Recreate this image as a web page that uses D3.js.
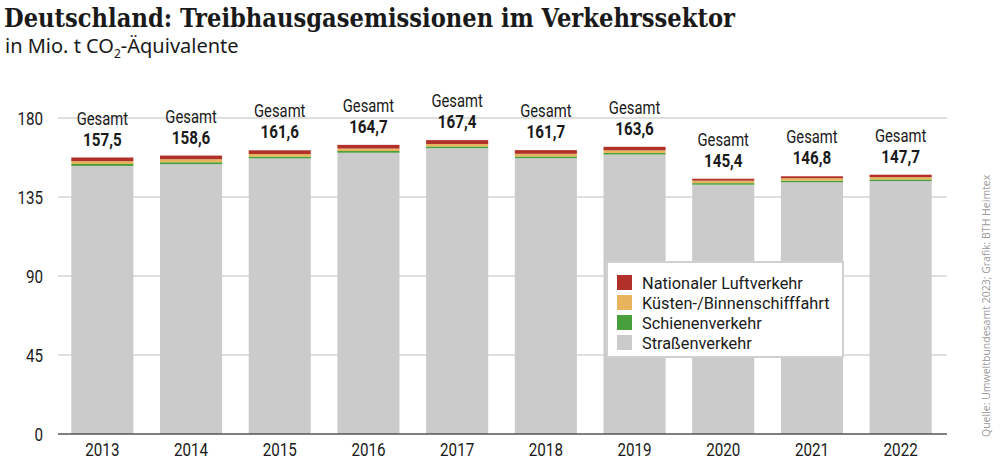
<!DOCTYPE html>
<html><head><meta charset="utf-8">
<script src="https://cdn.jsdelivr.net/npm/d3@7"></script>
<style>
body{margin:0;background:#fff;}
svg{display:block;}
.cond text{font-family:Roboto,"Liberation Sans",sans-serif;fill:#1a1a1a;}
</style></head>
<body><svg id="c" width="1000" height="472"></svg>
<script>
const years = ["2013","2014","2015","2016","2017","2018","2019","2020","2021","2022"];
const totals = [157.5,158.6,161.6,164.7,167.4,161.7,163.6,145.4,146.8,147.7];
const luftverkehr = [2.1,2.1,2.1,2.1,2.2,2.1,2.0,1.1,1.1,1.4];
const schifffahrt = [1.6,1.7,1.5,1.4,1.4,1.5,1.5,1.4,1.4,1.3];
const schiene = [1.1,1.1,1.0,1.0,1.0,1.0,0.9,0.9,0.9,0.9];
const strasse = totals.map((t,i)=>+(t-luftverkehr[i]-schifffahrt[i]-schiene[i]).toFixed(1));
const yTicks = [0,45,90,135,180];
const seriesNames = ["Straßenverkehr","Schienenverkehr","Küsten-/Binnenschifffahrt","Nationaler Luftverkehr"];
const seriesColors = ["#cbcbcb","#48a03c","#e8b45b","#b1302a"];
const SX = 0.8; // condensed look

const svg = d3.select("#c");
const x = d3.scaleBand().domain(years).range([58,945]).paddingInner(0.3).paddingOuter(0.15);
const y = d3.scaleLinear().domain([0,180]).range([434,118]);

const rows = years.map((yr,i)=>({year:yr, "Straßenverkehr":strasse[i], "Schienenverkehr":schiene[i], "Küsten-/Binnenschifffahrt":schifffahrt[i], "Nationaler Luftverkehr":luftverkehr[i], total:totals[i]}));
const stack = d3.stack().keys(seriesNames)(rows);

// title
svg.append("text").attr("x",4).attr("y",27).attr("font-family","DejaVu Serif Condensed, DejaVu Serif, serif").attr("font-weight","bold").attr("font-size",26).attr("fill","#1a1a1a")
  .attr("textLength",731).attr("lengthAdjust","spacingAndGlyphs").text("Deutschland: Treibhausgasemissionen im Verkehrssektor");
const sub = svg.append("text").attr("x",5).attr("y",53).attr("font-family","Noto Sans, sans-serif").attr("font-size",20).attr("fill","#1a1a1a");
sub.append("tspan").text("in Mio. t CO");
sub.append("tspan").attr("font-size",12).attr("dy",5).text("2");
sub.append("tspan").attr("dy",-5).text("-Äquivalente");

// grid
svg.append("g").selectAll("line").data(yTicks.filter(d=>d>0)).join("line")
  .attr("x1",58).attr("x2",947).attr("y1",d=>y(d)).attr("y2",d=>y(d))
  .attr("stroke","#d4d4d4").attr("stroke-width",1.5);

// y labels
svg.append("g").attr("class","cond").selectAll("text").data(yTicks).join("text")
  .attr("transform",d=>`translate(43,${y(d)+7}) scale(${SX},1)`).attr("text-anchor","end").attr("font-size",19).text(d=>d);

// bars
svg.append("g").selectAll("g").data(stack).join("g").attr("fill",(d,i)=>seriesColors[i])
  .selectAll("rect").data(d=>d).join("rect")
  .attr("x",d=>x(d.data.year)).attr("width",x.bandwidth())
  .attr("y",d=>y(d[1])).attr("height",d=>y(d[0])-y(d[1]));

// baseline
svg.append("line").attr("x1",58).attr("x2",947).attr("y1",y(0)).attr("y2",y(0)).attr("stroke","#555").attr("stroke-width",1.5);

// x labels
svg.append("g").attr("class","cond").selectAll("text").data(years).join("text")
  .attr("transform",d=>`translate(${x(d)+x.bandwidth()/2},456) scale(${SX},1)`).attr("text-anchor","middle").attr("font-size",19).text(d=>d);

// total labels
const lab = svg.append("g").attr("class","cond").selectAll("g").data(rows).join("g")
  .attr("transform",d=>`translate(${x(d.year)+x.bandwidth()/2},${y(d.total)-12}) scale(${SX},1)`);
lab.append("text").attr("text-anchor","middle").attr("font-size",19).attr("font-weight","bold").text(d=>d3.format(".1f")(d.total).replace(".",","));
lab.append("text").attr("text-anchor","middle").attr("y",-21).attr("font-size",18.5).text("Gesamt");

// legend
const lg = svg.append("g").attr("class","cond");
lg.append("rect").attr("x",607).attr("y",262).attr("width",236).attr("height",95).attr("fill","#fff").attr("stroke","#d0d0d0").attr("stroke-width",2);
const legendItems = seriesNames.slice().reverse();
const li = lg.selectAll("g").data(legendItems).join("g").attr("transform",(d,i)=>`translate(617,${275+i*20})`);
li.append("rect").attr("width",15).attr("height",15).attr("fill",d=>seriesColors[seriesNames.indexOf(d)]);
li.append("text").attr("transform",`translate(25,13.5) scale(0.96,1)`).attr("font-size",17).text(d=>d);

// source
svg.append("text").attr("transform","translate(990,437) rotate(-90)").attr("font-family","Open Sans, sans-serif").attr("font-size",10.5).attr("fill","#9a9a9a").text("Quelle: Umweltbundesamt 2023; Grafik: BTH Heimtex");
</script></body></html>
